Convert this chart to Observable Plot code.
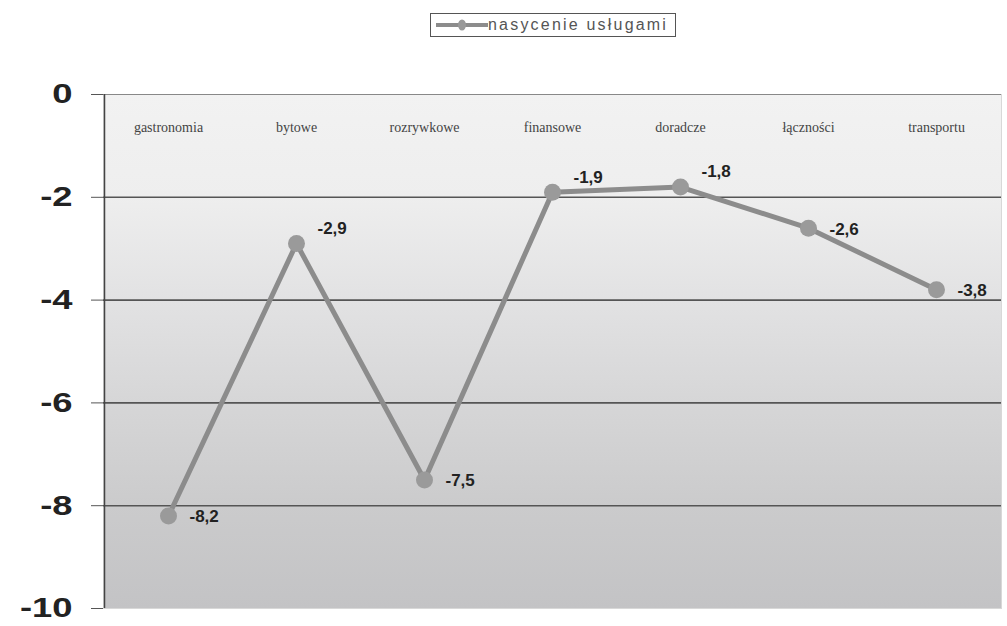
<!DOCTYPE html>
<html><head><meta charset="utf-8">
<script src="https://cdn.jsdelivr.net/npm/d3@7"></script>
<script src="https://cdn.jsdelivr.net/npm/@observablehq/plot@0.6"></script>
<style>
body{margin:0;background:#fff;width:1007px;height:626px;overflow:hidden;font-family:"Liberation Sans",Arial,sans-serif;}
#legend{height:50px;position:relative;}
#legend .box{position:absolute;left:430px;top:13px;width:246px;height:24px;border:1.5px solid #555;box-sizing:border-box;background:#fff;display:flex;align-items:center;}
#legend svg{margin-left:3px;}
#legend span{font-size:16px;color:#555;margin-left:0px;letter-spacing:2.2px;white-space:nowrap;}
</style></head>
<body>
<div id="legend"><div class="box"><svg width="54" height="14"><line x1="2" y1="7" x2="54" y2="7" stroke="#8c8c8c" stroke-width="4"/><ellipse cx="28" cy="7" rx="4" ry="5.5" fill="#999"/></svg><span>nasycenie usługami</span></div></div>
<div id="chart"></div>
<script>
const categories = ["gastronomia","bytowe","rozrywkowe","finansowe","doradcze","łączności","transportu"];
const values = [-8.2, -2.9, -7.5, -1.9, -1.8, -2.6, -3.8];
const yTicks = [0, -2, -4, -6, -8, -10];
const gridLines = [-2, -4, -6, -8];
const labelsAbove = ["bytowe", "finansowe", "doradcze"];

const data = categories.map((c, i) => ({cat: c, v: values[i]}));
const fmt = v => String(v).replace(".", ",");

const bgDefs = () => {
  const ns = "http://www.w3.org/2000/svg";
  const defs = document.createElementNS(ns, "defs");
  const g = document.createElementNS(ns, "linearGradient");
  g.setAttribute("id", "bg"); g.setAttribute("x1", "0"); g.setAttribute("y1", "0"); g.setAttribute("x2", "0"); g.setAttribute("y2", "1");
  [[0, "#f2f2f2"], [0.2, "#eeeeee"], [0.4, "#e2e2e3"], [0.6, "#d6d6d7"], [0.8, "#cbcbcc"], [1, "#c3c3c5"]].forEach(([o, c]) => {
    const s = document.createElementNS(ns, "stop");
    s.setAttribute("offset", o); s.setAttribute("stop-color", c);
    g.appendChild(s);
  });
  defs.appendChild(g);
  return defs;
};

const labelStyle = {x: "cat", y: "v", text: d => fmt(d.v), dx: 21, textAnchor: "start", fontSize: 17, fontWeight: "bold", fill: "#222", letterSpacing: 1};

const chart = Plot.plot({
  width: 1007,
  height: 576,
  marginTop: 44,
  marginBottom: 18,
  marginLeft: 103,
  marginRight: 6,
  style: {background: "transparent", fontFamily: "'Liberation Sans', Arial, sans-serif"},
  x: {type: "band", domain: categories, padding: 0, axis: null},
  y: {domain: [-10, 0], axis: null},
  marks: [
    bgDefs,
    Plot.frame({fill: "url(#bg)", stroke: "#d8d8d8"}),
    Plot.ruleY(gridLines, {stroke: "#555", strokeWidth: 1.6}),
    Plot.ruleY([0], {stroke: "#888", strokeWidth: 1.2}),
    Plot.axisY({ticks: yTicks, tickSize: 12, tickPadding: 19, fontSize: 28, fontWeight: "bold", color: "#222", stroke: "#555", tickFormat: d => String(d), label: null}),
    Plot.ruleX([0], {x: () => categories[0], dx: -64, stroke: "#444", strokeWidth: 1.5}),
    Plot.text(categories, {x: d => d, frameAnchor: "top", dy: 28, fontSize: 14, letterSpacing: 2, fill: "#444", fontFamily: "'Liberation Serif', 'DejaVu Serif', serif"}),
    Plot.line(data, {x: "cat", y: "v", stroke: "#8c8c8c", strokeWidth: 5}),
    Plot.dot(data, {x: "cat", y: "v", r: 8.5, fill: "#9a9a9a", stroke: "none"}),
    Plot.text(data, {...labelStyle, filter: d => labelsAbove.includes(d.cat), dy: -15}),
    Plot.text(data, {...labelStyle, filter: d => !labelsAbove.includes(d.cat), dy: 1})
  ]
});
chart.querySelectorAll('[aria-label="y-axis tick label"] text').forEach(t => {
  t.setAttribute("transform", (t.getAttribute("transform") || "") + " scale(1.3,1)");
});
document.getElementById("chart").appendChild(chart);
</script>
</body></html>
